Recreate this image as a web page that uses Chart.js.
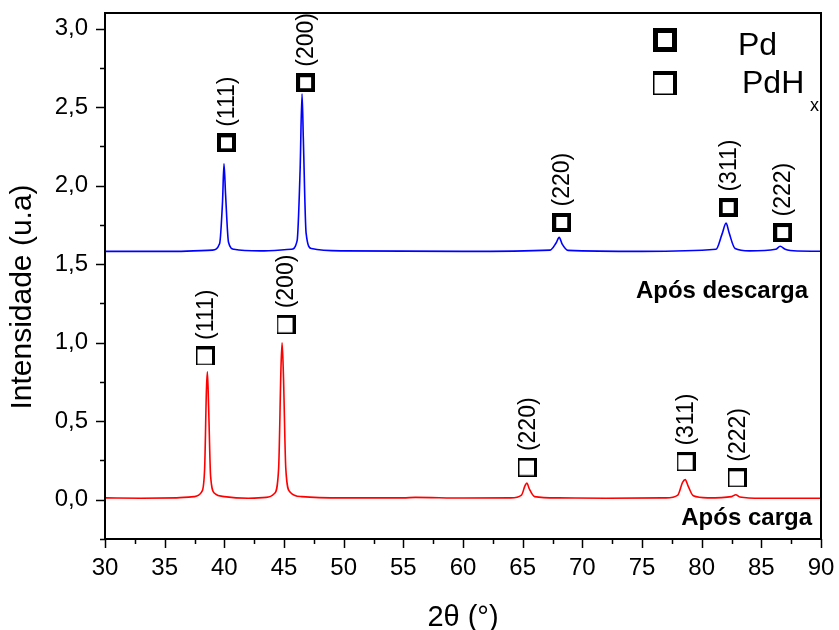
<!DOCTYPE html>
<html>
<head>
<meta charset="utf-8">
<script src="https://cdn.jsdelivr.net/npm/chart.js@4/dist/chart.umd.min.js"></script>
<style>
  html, body { margin: 0; padding: 0; background: #fff; }
</style>
</head>
<body>
<canvas id="xrd" width="839" height="630"></canvas>
<script>
// --- data ---
// Após carga (red, lower pattern)
const cargaX = [30, 33, 36, 37.5, 38.1, 38.35, 38.5, 38.58, 38.68, 38.85, 39.2, 40, 42, 43.5, 44.2, 44.55, 44.75, 44.84, 44.95, 45.15, 45.5, 46.5, 50, 55, 56, 60, 64, 64.9, 65.2, 65.35, 65.55, 66.0, 68, 72, 77, 78.0, 78.4, 78.62, 78.85, 79.3, 80.5, 82.5, 82.86, 83.2, 85, 90];
const cargaY = [0.012, 0.010, 0.012, 0.02, 0.05, 0.2, 0.7, 0.815, 0.6, 0.15, 0.04, 0.02, 0.01, 0.015, 0.04, 0.2, 0.85, 1.0, 0.8, 0.2, 0.05, 0.02, 0.012, 0.012, 0.015, 0.011, 0.012, 0.03, 0.09, 0.107, 0.07, 0.02, 0.012, 0.01, 0.012, 0.03, 0.11, 0.128, 0.09, 0.025, 0.012, 0.02, 0.032, 0.018, 0.01, 0.01];

// Após descarga (blue, upper pattern)
const descargaX = [30, 36, 39.0, 39.6, 39.85, 39.97, 40.1, 40.35, 40.8, 43, 45.6, 46.1, 46.35, 46.51, 46.62, 46.85, 47.3, 50, 60, 67.3, 67.8, 68.06, 68.3, 68.8, 75, 81.2, 81.7, 82.05, 82.3, 82.8, 84, 86.2, 86.58, 87.0, 88, 90];
const descargaY = [1.582, 1.582, 1.59, 1.63, 1.9, 2.139, 1.95, 1.64, 1.595, 1.585, 1.595, 1.65, 2.1, 2.586, 2.3, 1.70, 1.60, 1.585, 1.582, 1.59, 1.635, 1.671, 1.63, 1.588, 1.582, 1.595, 1.69, 1.762, 1.7, 1.6, 1.585, 1.595, 1.614, 1.595, 1.584, 1.583];

// reflection markers
const pdX = [40.18, 46.81, 68.27, 82.22, 86.79];
const pdY = [2.273, 2.656, 1.766, 1.861, 1.702];
const pdhX = [38.42, 45.17, 65.4, 78.7, 83.0];
const pdhY = [0.916, 1.117, 0.208, 0.243, 0.14];
const planes = ['(111)', '(200)', '(220)', '(311)', '(222)'];

const xTicks = [30, 35, 40, 45, 50, 55, 60, 65, 70, 75, 80, 85, 90];
const yTicks = [0, 0.5, 1.0, 1.5, 2.0, 2.5, 3.0];

const toPts = (xs, ys) => xs.map((x, i) => ({x: x, y: ys[i]}));

// square symbols like the original plot
const pdSymbol = (s) => {
    const c = document.createElement('canvas');
    c.width = s; c.height = s;
    const g = c.getContext('2d');
    const t = Math.round(s * 0.21);
    g.fillStyle = '#000';
    g.fillRect(0, 0, s, s);
    g.fillStyle = '#fff';
    g.fillRect(t, t, s - 2 * t, s - 2 * t);
    return c;
}
const pdhSymbol = (s) => {
    const c = document.createElement('canvas');
    c.width = s; c.height = s;
    const g = c.getContext('2d');
    const thin = 1.5, thick = Math.round(s * 0.16);
    g.fillStyle = '#000';
    g.fillRect(0, 0, s, s);
    g.fillStyle = '#fff';
    g.fillRect(thin, thick, s - thin - thick, s - thick - thin);
    return c;
}

const pdImg = pdSymbol(19);
const pdhImg = pdhSymbol(19);
const pdLegend = pdSymbol(24);
const pdhLegend = pdhSymbol(24);

const FONT = 'Arial, "Liberation Sans", sans-serif';

// frame, ticks, titles, hkl labels, legend and pattern names
const decorations = {
    id: 'decorations',
    afterDatasetsDraw(chart) {
        const {ctx, chartArea: a, scales: {x, y}} = chart;
        ctx.save();
        ctx.strokeStyle = '#000';
        ctx.lineWidth = 2;
        ctx.strokeRect(a.left, a.top, a.right - a.left, a.bottom - a.top);

        ctx.lineWidth = 1.5;
        ctx.beginPath();
        for (let v = 30; v <= 90; v += 2.5) {
            const px = Math.round(x.getPixelForValue(v)) + 0.5;
            const len = v % 5 === 0 ? 9 : 5;
            ctx.moveTo(px, a.bottom);
            ctx.lineTo(px, a.bottom + len);
        }
        for (let v = -0.25; v <= 3.1; v += 0.25) {
            const py = Math.round(y.getPixelForValue(v)) + 0.5;
            const major = Math.abs(v * 2 - Math.round(v * 2)) < 1e-6;
            ctx.moveTo(a.left, py);
            ctx.lineTo(a.left - (major ? 9 : 5), py);
        }
        ctx.stroke();

        ctx.fillStyle = '#000';

        // axis titles
        ctx.textAlign = 'center';
        ctx.textBaseline = 'alphabetic';
        ctx.font = '29px ' + FONT;
        ctx.fillText('2θ (°)', 463, 626);
        ctx.save();
        ctx.translate(23, 297);
        ctx.rotate(-Math.PI / 2);
        ctx.font = '30px ' + FONT;
        ctx.textBaseline = 'middle';
        ctx.fillText('Intensidade (u.a)', 0, 0);
        ctx.restore();

        // hkl labels, rotated
        ctx.font = '23px ' + FONT;
        ctx.textAlign = 'left';
        ctx.textBaseline = 'middle';
        const hkl = (xs, ys) => {
            xs.forEach((v, i) => {
                const px = x.getPixelForValue(v) + 1;
                const py = y.getPixelForValue(ys[i]) - 16;
                ctx.save();
                ctx.translate(px, py);
                ctx.rotate(-Math.PI / 2);
                ctx.fillText(planes[i], 0, 0);
                ctx.restore();
            });
        };
        hkl(pdX, pdY);
        hkl(pdhX, pdhY);

        // legend
        ctx.drawImage(pdLegend, 665 - 12, 40 - 12);
        ctx.drawImage(pdhLegend, 665 - 12, 83 - 12);
        ctx.textBaseline = 'alphabetic';
        ctx.font = '32px ' + FONT;
        ctx.fillText('Pd', 738, 55);
        ctx.fillText('PdH', 742, 93);
        ctx.font = '18px ' + FONT;
        ctx.fillText('x', 810, 111);

        // pattern names
        ctx.font = 'bold 24px ' + FONT;
        ctx.textAlign = 'right';
        ctx.fillText('Após descarga', 808, 298);
        ctx.fillText('Após carga', 812, 525);
        ctx.restore();
    }
};

new Chart(document.getElementById('xrd'), {
    type: 'scatter',
    data: {
        datasets: [{
            label: 'Após descarga',
            data: toPts(descargaX, descargaY),
            showLine: true,
            borderColor: '#0000ff',
            borderWidth: 1.6,
            pointRadius: 0,
            cubicInterpolationMode: 'monotone'
        }, {
            label: 'Após carga',
            data: toPts(cargaX, cargaY),
            showLine: true,
            borderColor: '#ff0000',
            borderWidth: 1.6,
            pointRadius: 0,
            cubicInterpolationMode: 'monotone'
        }, {
            label: 'Pd',
            data: toPts(pdX, pdY),
            pointStyle: pdImg,
            pointRadius: 10
        }, {
            label: 'PdHx',
            data: toPts(pdhX, pdhY),
            pointStyle: pdhImg,
            pointRadius: 10
        }]
    },
    options: {
        responsive: false,
        animation: false,
        devicePixelRatio: 1,
        layout: { padding: { left: 0, top: 13, right: 18, bottom: 0 } },
        plugins: {
            legend: { display: false },
            tooltip: { enabled: false }
        },
        scales: {
            x: {
                type: 'linear',
                min: 30,
                max: 90,
                afterBuildTicks: (s) => { s.ticks = xTicks.map(v => ({value: v})); },
                afterFit: (s) => { s.height = 91; s.paddingLeft = 0; s.paddingRight = 0; },
                grid: { display: false, drawTicks: false },
                border: { display: false },
                ticks: { color: '#000', font: { size: 24, family: FONT }, padding: 15 }
            },
            y: {
                min: -0.25,
                max: 3.1,
                afterBuildTicks: (s) => { s.ticks = yTicks.map(v => ({value: v})); },
                afterFit: (s) => { s.width = 105; s.paddingTop = 0; s.paddingBottom = 0; },
                grid: { display: false, drawTicks: false },
                border: { display: false },
                ticks: {
                    color: '#000',
                    font: { size: 24, family: FONT },
                    padding: 17,
                    callback: (v) => v.toFixed(1).replace('.', ',')
                }
            }
        }
    },
    plugins: [decorations]
});
</script>
</body>
</html>
